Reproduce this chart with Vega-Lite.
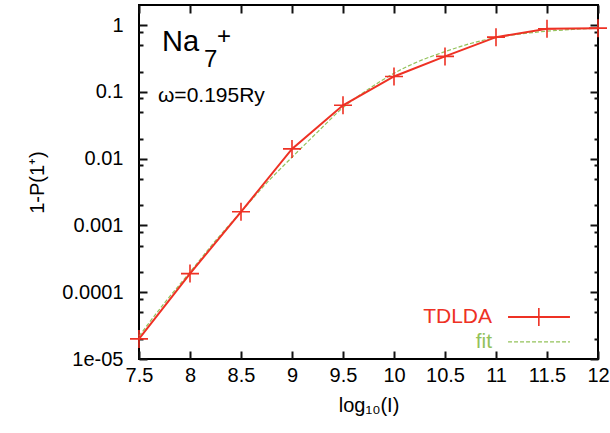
{
  "$schema": "https://vega.github.io/schema/vega-lite/v6.json",
  "width": 459,
  "height": 354,
  "autosize": {"type": "none"},
  "padding": {"left": 139, "top": 5, "right": 12, "bottom": 74},
  "config": {
    "font": "Liberation Sans",
    "view": {"stroke": "black", "strokeWidth": 2},
    "axis": {
      "domain": false,
      "grid": false,
      "labelFlush": false,
      "labelFont": "Liberation Sans",
      "labelFontSize": 20,
      "labelColor": "black",
      "titleFont": "Liberation Sans",
      "titleFontSize": 20,
      "titleFontWeight": "normal",
      "titleColor": "black"
    }
  },
  "datasets": {
    "tdlda": [
      {"logI": 7.5, "p": 0.00002},
      {"logI": 8.0, "p": 0.00019},
      {"logI": 8.5, "p": 0.0016},
      {"logI": 9.0, "p": 0.014},
      {"logI": 9.5, "p": 0.063},
      {"logI": 10.0, "p": 0.17},
      {"logI": 10.5, "p": 0.34},
      {"logI": 11.0, "p": 0.66},
      {"logI": 11.5, "p": 0.88},
      {"logI": 12.0, "p": 0.9}
    ],
    "fit": [
      {"logI": 7.5, "p": 0.000022},
      {"logI": 7.75, "p": 0.000069},
      {"logI": 8.0, "p": 0.0002},
      {"logI": 8.25, "p": 0.00059},
      {"logI": 8.5, "p": 0.0016},
      {"logI": 8.75, "p": 0.0043},
      {"logI": 9.0, "p": 0.0105},
      {"logI": 9.25, "p": 0.025},
      {"logI": 9.5, "p": 0.058},
      {"logI": 9.75, "p": 0.11},
      {"logI": 10.0, "p": 0.19},
      {"logI": 10.25, "p": 0.29},
      {"logI": 10.5, "p": 0.4},
      {"logI": 10.75, "p": 0.53},
      {"logI": 11.0, "p": 0.65},
      {"logI": 11.25, "p": 0.74},
      {"logI": 11.5, "p": 0.81},
      {"logI": 11.75, "p": 0.86},
      {"logI": 12.0, "p": 0.9}
    ]
  },
  "resolve": {"axis": {"x": "independent", "y": "independent"}},
  "layer": [
    {
      "data": {"name": "fit"},
      "mark": {"type": "line", "color": "#93c25a", "strokeWidth": 1.2, "strokeDash": [4, 2], "interpolate": "monotone"},
      "encoding": {
        "x": {
          "field": "logI", "type": "quantitative",
          "scale": {"domain": [7.5, 12], "nice": false, "zero": false},
          "axis": {
            "title": "log₁₀(I)",
            "values": [7.5, 8, 8.5, 9, 9.5, 10, 10.5, 11, 11.5, 12],
            "format": "~g",
            "ticks": true,
            "tickColor": "#111111",
            "tickWidth": 2,
            "tickSize": -8,
            "labelPadding": 14,
            "titlePadding": 10
          }
        },
        "y": {
          "field": "p", "type": "quantitative",
          "scale": {"type": "log", "domain": [0.00001, 2], "nice": false},
          "axis": {
            "title": "1-P(1⁺)",
            "values": [0.00001, 0.00002, 0.00005, 0.00008, 0.0001, 0.0002, 0.0005, 0.0008, 0.001, 0.002, 0.005, 0.008, 0.01, 0.02, 0.05, 0.08, 0.1, 0.2, 0.5, 0.8, 1],
            "labelExpr": "datum.value == 1 ? '1' : datum.value == 0.1 ? '0.1' : datum.value == 0.01 ? '0.01' : datum.value == 0.001 ? '0.001' : datum.value == 0.0001 ? '0.0001' : datum.value == 0.00001 ? '1e-05' : ''",
            "ticks": true,
            "tickColor": "#111111",
            "tickWidth": 2,
            "tickSize": {"condition": {"test": "indexof([1, 0.1, 0.01, 0.001, 0.0001, 0.00001], datum.value) >= 0", "value": -8}, "value": -4},
            "labelPadding": 24,
            "titlePadding": 14
          }
        }
      }
    },
    {
      "data": {"name": "tdlda"},
      "mark": {"type": "line", "color": "#ee3124", "strokeWidth": 2},
      "encoding": {
        "x": {
          "field": "logI", "type": "quantitative",
          "axis": {
            "orient": "top", "labels": false, "title": null,
            "values": [7.5, 8, 8.5, 9, 9.5, 10, 10.5, 11, 11.5, 12],
            "ticks": true,
            "tickColor": "#111111",
            "tickWidth": 2,
            "tickSize": -8
          }
        },
        "y": {
          "field": "p", "type": "quantitative",
          "axis": {
            "orient": "right", "labels": false, "title": null,
            "values": [0.00001, 0.00002, 0.00005, 0.00008, 0.0001, 0.0002, 0.0005, 0.0008, 0.001, 0.002, 0.005, 0.008, 0.01, 0.02, 0.05, 0.08, 0.1, 0.2, 0.5, 0.8, 1],
            "ticks": true,
            "tickColor": "#111111",
            "tickWidth": 2,
            "tickSize": {"condition": {"test": "indexof([1, 0.1, 0.01, 0.001, 0.0001, 0.00001], datum.value) >= 0", "value": -8}, "value": -4}
          }
        }
      }
    },
    {
      "data": {"name": "tdlda"},
      "mark": {"type": "point", "shape": "M-1,0H1M0,-1V1", "size": 324, "filled": false, "color": "#ee3124", "strokeWidth": 1.6, "opacity": 1},
      "encoding": {
        "x": {"field": "logI", "type": "quantitative", "axis": null},
        "y": {"field": "p", "type": "quantitative", "axis": null}
      }
    },
    {
      "data": {"values": [{}]},
      "mark": {"type": "rule", "color": "#ee3124", "strokeWidth": 2},
      "encoding": {
        "x": {"datum": 11.118, "type": "quantitative", "axis": null},
        "x2": {"datum": 11.725},
        "y": {"datum": 0.0000425, "type": "quantitative", "axis": null}
      }
    },
    {
      "data": {"values": [{}]},
      "mark": {"type": "point", "shape": "M-1,0H1M0,-1V1", "size": 324, "filled": false, "color": "#ee3124", "strokeWidth": 1.6, "opacity": 1},
      "encoding": {
        "x": {"datum": 11.42, "type": "quantitative", "axis": null},
        "y": {"datum": 0.0000425, "type": "quantitative", "axis": null}
      }
    },
    {
      "data": {"values": [{}]},
      "mark": {"type": "rule", "color": "#93c25a", "strokeWidth": 1.2, "strokeDash": [4, 2]},
      "encoding": {
        "x": {"datum": 11.118, "type": "quantitative", "axis": null},
        "x2": {"datum": 11.725},
        "y": {"datum": 0.000018, "type": "quantitative", "axis": null}
      }
    },
    {
      "data": {"values": [{}]},
      "mark": {"type": "text", "text": "TDLDA", "align": "right", "baseline": "middle", "fontSize": 21, "color": "#ee3124"},
      "encoding": {
        "x": {"datum": 10.961, "type": "quantitative", "axis": null},
        "y": {"datum": 0.0000425, "type": "quantitative", "axis": null}
      }
    },
    {
      "data": {"values": [{}]},
      "mark": {"type": "text", "text": "fit", "align": "right", "baseline": "middle", "fontSize": 21, "color": "#93c25a"},
      "encoding": {
        "x": {"datum": 10.961, "type": "quantitative", "axis": null},
        "y": {"datum": 0.000018, "type": "quantitative", "axis": null}
      }
    },
    {
      "data": {"values": [{}]},
      "mark": {"type": "text", "text": "Na", "align": "left", "baseline": "alphabetic", "fontSize": 29, "color": "black"},
      "encoding": {
        "x": {"datum": 7.7255, "type": "quantitative", "axis": null},
        "y": {"datum": 0.408, "type": "quantitative", "axis": null}
      }
    },
    {
      "data": {"values": [{}]},
      "mark": {"type": "text", "text": "7", "align": "left", "baseline": "alphabetic", "fontSize": 24, "color": "black"},
      "encoding": {
        "x": {"datum": 8.137, "type": "quantitative", "axis": null},
        "y": {"datum": 0.2355, "type": "quantitative", "axis": null}
      }
    },
    {
      "data": {"values": [{}]},
      "mark": {"type": "text", "text": "+", "align": "left", "baseline": "alphabetic", "fontSize": 24, "color": "black"},
      "encoding": {
        "x": {"datum": 8.265, "type": "quantitative", "axis": null},
        "y": {"datum": 0.52, "type": "quantitative", "axis": null}
      }
    },
    {
      "data": {"values": [{}]},
      "mark": {"type": "text", "text": "ω=0.195Ry", "align": "left", "baseline": "alphabetic", "fontSize": 21, "color": "black"},
      "encoding": {
        "x": {"datum": 7.686, "type": "quantitative", "axis": null},
        "y": {"datum": 0.0711, "type": "quantitative", "axis": null}
      }
    }
  ]
}
